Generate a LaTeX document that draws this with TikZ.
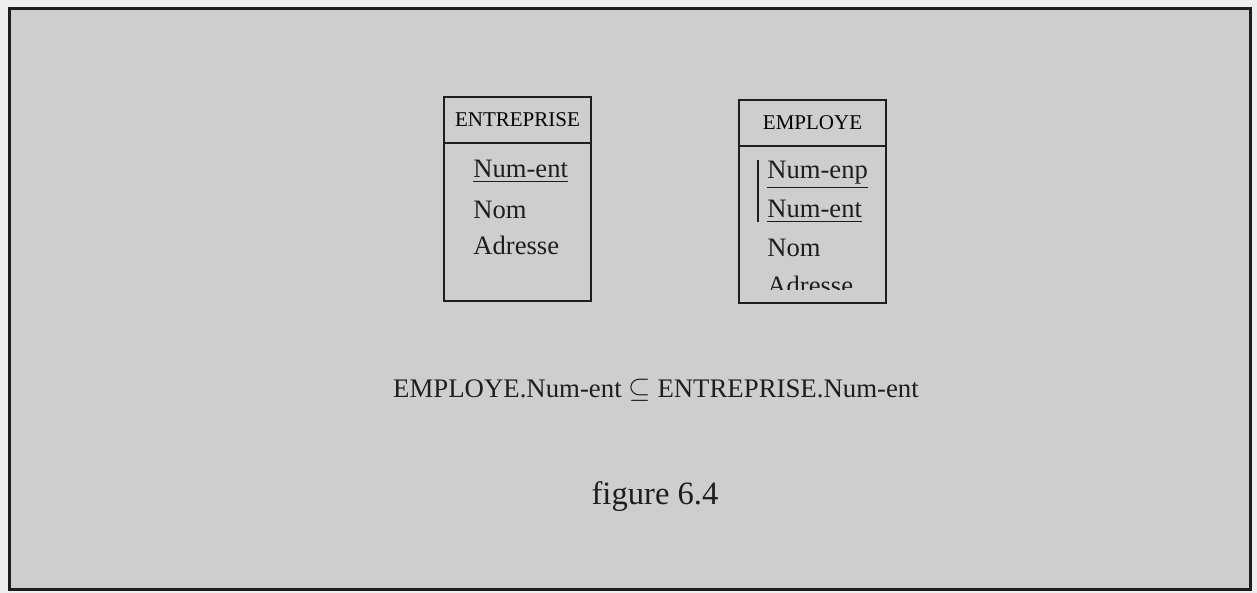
\documentclass[tikz,border=0pt]{standalone}
\usepackage{fontspec}
\usepackage{amsmath,amssymb}
\setmainfont{Liberation Serif}
\usetikzlibrary{positioning}

\definecolor{paper}{RGB}{238,238,238}
\definecolor{panel}{RGB}{206,206,206}
\definecolor{ink}{RGB}{30,30,30}

\tikzset{
  tabhead/.style={draw=ink, line width=1pt, rectangle, minimum width=73.5pt, minimum height=23pt, inner sep=0pt, font=\fontsize{10.5}{12}\selectfont},
  tabbody/.style={draw=ink, line width=1pt, rectangle, minimum width=73.5pt, inner sep=0pt},
  attr/.style={anchor=west, inner sep=0pt, text=ink, font=\fontsize{13.3}{15}\selectfont},
}

\begin{document}
\begin{tikzpicture}[x=0.5pt, y=-0.5pt]
  % page and grey panel
  \fill[paper] (0,0) rectangle (1257,593);
  \draw[ink, line width=1.5pt, fill=panel] (9,9) rectangle (1250,589);

  % table ENTREPRISE
  \node[tabhead] (entHead) at (517.5,120) {ENTREPRISE};
  \node[tabbody, minimum height=79pt] (entBody) at (517.5,222) {};
  \node[attr] (entKey) at (473,172) {\underline{Num-ent}};
  \node[attr] (entNom) at (473,210) {Nom};
  \node[attr] (entAdr) at (473,245) {Adresse};

  % table EMPLOYE
  \node[tabhead] (empHead) at (812.5,123) {EMPLOYE};
  \node[tabbody, minimum height=78.5pt] (empBody) at (812.5,224.5) {};
  \node[attr] (empKey) at (767,175) {\underline{Num-enp}};
  \node[attr] (empRef) at (767,212) {\underline{Num-ent}};
  \node[attr] (empNom) at (767,248) {Nom};
  % last attribute is cut off above the frame
  \begin{scope}
    \clip (empBody.north west) rectangle (886,289);
    \node[attr] (empAdr) at (767,285) {Adresse};
  \end{scope}
  % composite key marker
  \coordinate (keyTop) at (758,160);
  \coordinate (keyBot) at (758,222);
  \draw[ink, line width=1pt] (keyTop) -- (keyBot);

  % inclusion constraint and caption
  \node[text=ink, font=\fontsize{13.4}{16}\selectfont] (incl) at (656,390)
    {EMPLOYE.Num-ent $\subseteq$ ENTREPRISE.Num-ent};
  \node[text=ink, font=\fontsize{16.3}{19}\selectfont] (caption) at (655,497) {figure 6.4};
\end{tikzpicture}
\end{document}
